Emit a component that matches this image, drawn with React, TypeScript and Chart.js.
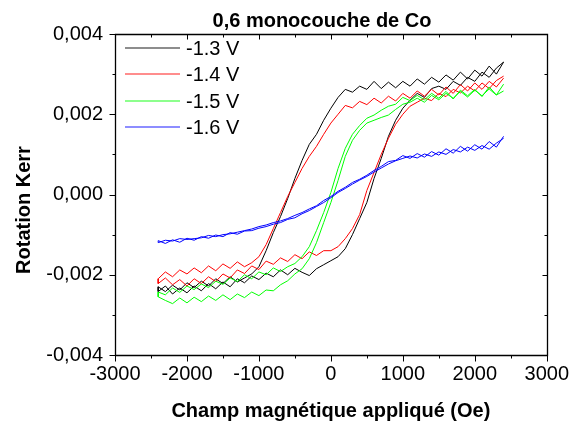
import React, { useEffect, useRef } from "react";
import { Chart, registerables } from "chart.js";

Chart.register(...registerables);

// Applied field (Oe): descending sweep then ascending sweep
const FIELD_DOWN = [
  2400, 2300, 2200, 2100, 2000, 1900, 1800, 1700, 1600, 1500, 1400, 1300, 1200,
  1100, 1000, 900, 800, 700, 600, 500, 400, 300, 200, 100, 0, -100, -200, -300,
  -400, -500, -600, -700, -800, -900, -1000, -1100, -1200, -1300, -1400, -1500,
  -1600, -1700, -1800, -1900, -2000, -2100, -2200, -2300, -2400,
];
const FIELD_UP = [
  -2400, -2300, -2200, -2100, -2000, -1900, -1800, -1700, -1600, -1500, -1400,
  -1300, -1200, -1100, -1000, -900, -800, -700, -600, -500, -400, -300, -200,
  -100, 0, 100, 200, 300, 400, 500, 600, 700, 800, 900, 1000, 1100, 1200, 1300,
  1400, 1500, 1600, 1700, 1800, 1900, 2000, 2100, 2200, 2300, 2400,
];

// Kerr rotation, in units of 10^-3
const KERR_13_DOWN = [
  3.3, 3.0, 3.2, 2.95, 3.1, 2.88, 3.05, 2.85, 2.98, 2.8, 2.92, 2.75, 2.88, 2.7,
  2.82, 2.66, 2.8, 2.64, 2.82, 2.62, 2.7, 2.55, 2.62, 2.42, 2.15, 1.85, 1.5, 1.25,
  0.85, 0.4, -0.1, -0.55, -0.95, -1.4, -1.8, -1.98, -2.08, -2.18, -2.05, -2.22,
  -2.1, -2.28, -2.16, -2.32, -2.2, -2.38, -2.26, -2.42, -2.3,
];
const KERR_13_UP = [
  -2.42, -2.28, -2.48, -2.33, -2.45, -2.28, -2.4, -2.22, -2.35, -2.18, -2.3,
  -2.1, -2.2, -2.03, -2.12, -1.96, -2.05, -1.88, -2.0, -1.84, -1.94, -2.02,
  -1.85, -1.75, -1.65, -1.55, -1.35, -1.0, -0.6, -0.2, 0.4, 0.9, 1.45, 1.85,
  2.15, 2.35, 2.52, 2.42, 2.64, 2.7, 2.62, 2.82, 2.72, 2.92, 2.82, 3.05, 2.92,
  3.15, 3.3,
];
const KERR_14_DOWN = [
  2.9, 2.68, 2.82, 2.62, 2.78, 2.58, 2.74, 2.52, 2.68, 2.48, 2.62, 2.45, 2.58,
  2.4, 2.52, 2.33, 2.45, 2.28, 2.4, 2.24, 2.32, 2.16, 2.22, 2.0, 1.78, 1.5, 1.2,
  0.95, 0.65, 0.3, -0.05, -0.45, -0.85, -1.25, -1.55, -1.7, -1.8, -1.68, -1.84,
  -1.73, -1.9, -1.78, -1.95, -1.83, -1.98, -1.88, -2.05, -1.93, -2.1,
];
const KERR_14_UP = [
  -2.22, -2.08, -2.25, -2.12, -2.28, -2.1, -2.22, -2.05, -2.17, -1.98, -2.08,
  -1.88, -1.97, -1.78, -1.87, -1.66, -1.74, -1.58, -1.67, -1.5, -1.6, -1.43,
  -1.52, -1.4, -1.4, -1.3, -1.1, -0.85, -0.5, 0.1, 0.55, 1.0, 1.4, 1.75, 2.0,
  2.2, 2.3, 2.4, 2.34, 2.52, 2.44, 2.62, 2.53, 2.7, 2.58, 2.78, 2.64, 2.84, 2.95,
];
const KERR_15_DOWN = [
  2.75, 2.48, 2.68, 2.44, 2.62, 2.46, 2.6, 2.38, 2.57, 2.4, 2.52, 2.36, 2.47,
  2.34, 2.42, 2.25, 2.2, 2.1, 1.98, 1.9, 1.72, 1.5, 1.15, 0.65, 0.05, -0.45,
  -0.9, -1.3, -1.55, -1.72, -1.8, -1.92, -1.83, -2.0, -1.93, -2.1, -2.0, -2.17,
  -2.08, -2.24, -2.16, -2.32, -2.23, -2.37, -2.28, -2.44, -2.33, -2.5, -2.43,
];
const KERR_15_UP = [
  -2.55, -2.64, -2.72, -2.58, -2.7, -2.56, -2.67, -2.53, -2.64, -2.5, -2.62,
  -2.48, -2.57, -2.43, -2.52, -2.38, -2.4, -2.25, -2.15, -1.98, -1.85, -1.6,
  -1.2, -0.7, -0.2, 0.35, 0.95, 1.35, 1.6, 1.78, 1.85, 1.92, 1.98, 2.12, 2.25,
  2.3, 2.4, 2.3, 2.47, 2.36, 2.52, 2.4, 2.57, 2.43, 2.6, 2.46, 2.63, 2.48, 2.58,
];
const KERR_16_DOWN = [
  1.45, 1.18, 1.32, 1.13, 1.24, 1.08, 1.2, 1.03, 1.14, 0.98, 1.07, 0.93, 1.02,
  0.9, 0.97, 0.85, 0.82, 0.7, 0.6, 0.48, 0.38, 0.3, 0.18, 0.08, -0.05, -0.15,
  -0.28, -0.36, -0.45, -0.52, -0.6, -0.66, -0.7, -0.76, -0.8, -0.86, -0.9, -0.94,
  -0.98, -1.0, -1.05, -1.02, -1.08, -1.1, -1.12, -1.1, -1.16, -1.14, -1.2,
];
const KERR_16_UP = [
  -1.15, -1.22, -1.13, -1.19, -1.09, -1.14, -1.05, -1.09, -1.01, -1.05, -0.95,
  -0.99, -0.91, -0.9, -0.84, -0.8, -0.74, -0.7, -0.62, -0.58, -0.48, -0.4, -0.3,
  -0.2, -0.08, 0.05, 0.15, 0.26, 0.36, 0.45, 0.56, 0.66, 0.76, 0.84, 0.9, 0.96,
  0.91, 1.01, 0.95, 1.06, 1.0, 1.12, 1.06, 1.18, 1.1, 1.22, 1.13, 1.28, 1.4,
];

const SERIES_LABELS = ["-1.3 V", "-1.4 V", "-1.5 V", "-1.6 V"];
const SERIES_COLORS = ["#000000", "#ff0000", "#00ff00", "#0000ff"];
const SERIES_DOWN = [KERR_13_DOWN, KERR_14_DOWN, KERR_15_DOWN, KERR_16_DOWN];
const SERIES_UP = [KERR_13_UP, KERR_14_UP, KERR_15_UP, KERR_16_UP];

const TITLE = "0,6 monocouche de Co";
const X_TITLE = "Champ magnétique appliqué (Oe)";
const Y_TITLE = "Rotation Kerr";

const FONT = "'Liberation Sans', Arial, Helvetica, sans-serif";

const overlayPlugin = {
  id: "overlay",
  afterDraw(chart: any) {
    const { ctx, chartArea: a, scales } = chart;
    const xs = scales.x;
    const ys = scales.y;
    ctx.save();
    ctx.strokeStyle = "#000";
    ctx.lineWidth = 1.3;
    const L = Math.round(a.left) + 0.5;
    const R = Math.round(a.right) + 0.5;
    const T = Math.round(a.top) + 0.5;
    const B = Math.round(a.bottom) + 0.5;
    ctx.beginPath();
    ctx.rect(L, T, R - L, B - T);
    ctx.stroke();
    ctx.lineWidth = 1;
    ctx.beginPath();
    for (let v = xs.min; v <= xs.max; v += 500) {
      const px = Math.round(xs.getPixelForValue(v)) + 0.5;
      const major = v % 1000 === 0;
      const out = major ? 6 : 3;
      const inn = major ? 5 : 3;
      ctx.moveTo(px, B);
      ctx.lineTo(px, B + out);
      ctx.moveTo(px, T);
      ctx.lineTo(px, T + inn);
    }
    for (let v = ys.min; v <= ys.max + 1e-9; v += 1) {
      const py = Math.round(ys.getPixelForValue(v)) + 0.5;
      const major = Math.abs(v % 2) < 1e-9;
      const out = major ? 6 : 3;
      const inn = major ? 5 : 3;
      ctx.moveTo(L, py);
      ctx.lineTo(L - out, py);
      ctx.moveTo(R, py);
      ctx.lineTo(R - inn, py);
    }
    ctx.stroke();

    // legend
    ctx.font = `20px ${FONT}`;
    ctx.textBaseline = "alphabetic";
    ctx.textAlign = "left";
    SERIES_LABELS.forEach((label, i) => {
      const y = Math.round(48 + i * 26.4);
      ctx.strokeStyle = SERIES_COLORS[i];
      ctx.globalAlpha = 0.6;
      ctx.lineWidth = 1.4;
      ctx.beginPath();
      ctx.moveTo(125, y);
      ctx.lineTo(180, y);
      ctx.stroke();
      ctx.globalAlpha = 1;
      ctx.fillStyle = "#000";
      ctx.fillText(label, 186, y + 7);
    });

    // titles
    ctx.fillStyle = "#000";
    ctx.font = `bold 20px ${FONT}`;
    ctx.textAlign = "center";
    ctx.fillText(TITLE, 322, 27);
    ctx.fillText(X_TITLE, (a.left + a.right) / 2, 417);
    ctx.translate(30, 210);
    ctx.rotate(-Math.PI / 2);
    ctx.fillText(Y_TITLE, 0, 0);
    ctx.restore();
  },
};

export default function App() {
  const ref = useRef<HTMLCanvasElement | null>(null);

  useEffect(() => {
    if (!ref.current) return;
    const datasets = SERIES_LABELS.map((label, i) => ({
      label,
      data: [
        ...FIELD_DOWN.map((x, k) => ({ x, y: SERIES_DOWN[i][k] })),
        ...FIELD_UP.map((x, k) => ({ x, y: SERIES_UP[i][k] })),
      ],
      borderColor: SERIES_COLORS[i],
      backgroundColor: SERIES_COLORS[i],
      borderWidth: 1,
      pointRadius: 0,
      showLine: true,
      tension: 0,
      fill: false,
      order: 4 - i,
    }));
    const tickFont = { size: 20, family: FONT };
    const chart = new Chart(ref.current, {
      type: "scatter",
      data: { datasets },
      options: {
        animation: false,
        responsive: false,
        devicePixelRatio: 1,
        layout: { padding: { top: 34, right: 25, left: 0, bottom: 0 } },
        plugins: {
          legend: { display: false },
          tooltip: { enabled: false },
          title: { display: false },
        },
        scales: {
          x: {
            type: "linear",
            min: -3000,
            max: 3000,
            afterFit: (s: any) => {
              s.height = 72;
            },
            grid: { display: false, drawTicks: false },
            border: { display: false },
            ticks: {
              stepSize: 1000,
              autoSkip: false,
              maxRotation: 0,
              padding: 7,
              color: "#000",
              font: tickFont,
              callback: (v: any) => String(v),
            },
          },
          y: {
            type: "linear",
            min: -4,
            max: 4,
            afterFit: (s: any) => {
              s.width = 115;
            },
            grid: { display: false, drawTicks: false },
            border: { display: false },
            ticks: {
              stepSize: 2,
              autoSkip: false,
              padding: 12,
              color: "#000",
              font: tickFont,
              callback: (v: any) => (Number(v) / 1000).toFixed(3).replace(".", ","),
            },
          },
        },
      },
      plugins: [overlayPlugin],
    });
    return () => chart.destroy();
  }, []);

  return (
    <div style={{ position: "fixed", left: 0, top: 0, width: 576, height: 427, background: "#fff" }}>
      <canvas ref={ref} width={576} height={427} style={{ display: "block" }} />
    </div>
  );
}
